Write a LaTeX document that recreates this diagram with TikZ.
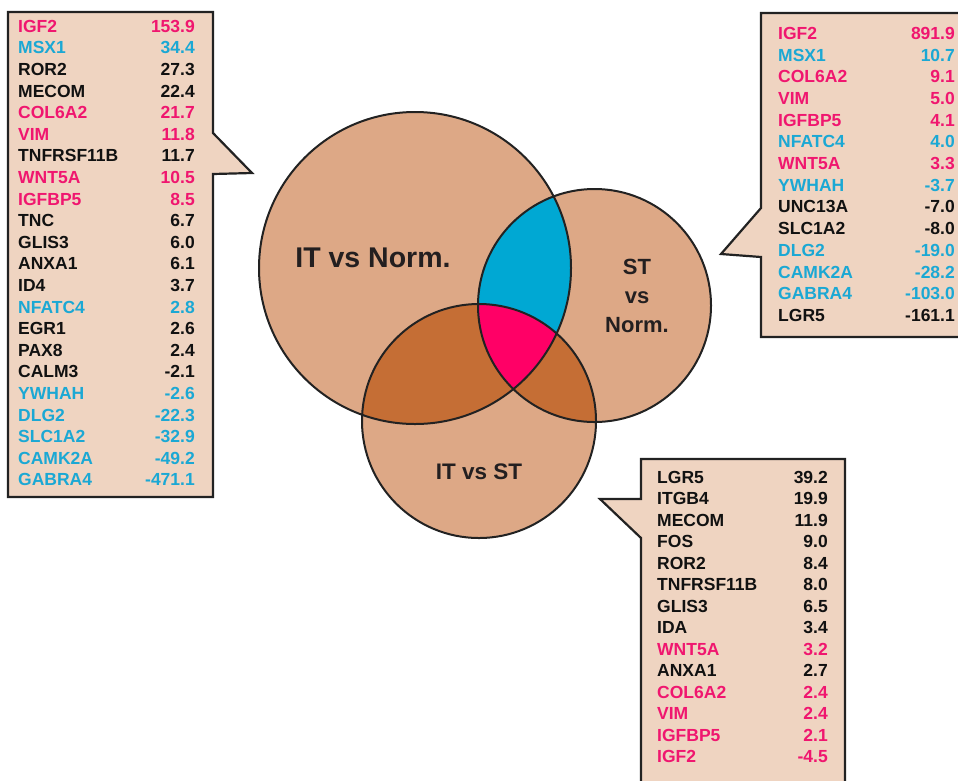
\documentclass[tikz,border=0pt]{standalone}
\usepackage{fontspec}
\setmainfont{Liberation Sans}
\definecolor{tanfill}{HTML}{DDA886}
\definecolor{brownfill}{HTML}{C56E35}
\definecolor{cyanfill}{HTML}{00A8D3}
\definecolor{magfill}{HTML}{FF0066}
\definecolor{boxfill}{HTML}{EFD4C1}
\definecolor{pk}{HTML}{F0166F}
\definecolor{cy}{HTML}{1BA8D4}
\definecolor{bk}{HTML}{111111}
\definecolor{edge}{HTML}{222222}
\definecolor{lbl}{HTML}{231F20}
\tikzset{
  callout/.style={fill=boxfill, draw=edge, line width=2.2pt, line join=miter},
  ring/.style={draw=edge, line width=2pt},
  rowtxt/.style={inner sep=0pt, font=\fontsize{17.5}{20}\selectfont\bfseries},
  vennlbl/.style={inner sep=0pt, text=lbl, font=\bfseries},
}
\begin{document}
\begin{tikzpicture}[x=1pt,y=-1pt]
\useasboundingbox (0,0) rectangle (958,780);

% circle centres
\coordinate (cA) at (415,268);
\coordinate (cB) at (594.5,305.5);
\coordinate (cC) at (479,421);
\def\rA{156}\def\rB{116.5}\def\rC{117}

% base fills
\fill[tanfill] (cA) circle[radius=\rA];
\fill[tanfill] (cB) circle[radius=\rB];
\fill[tanfill] (cC) circle[radius=\rC];
% pairwise overlaps with the IT vs ST set
\begin{scope}
  \clip (cC) circle[radius=\rC];
  \fill[brownfill] (cA) circle[radius=\rA];
  \fill[brownfill] (cB) circle[radius=\rB];
\end{scope}
% IT vs Norm. and ST vs Norm. overlap
\begin{scope}
  \clip (cA) circle[radius=\rA];
  \fill[cyanfill] (cB) circle[radius=\rB];
  \clip (cB) circle[radius=\rB];
  \fill[magfill] (cC) circle[radius=\rC];
\end{scope}
% outlines
\draw[ring] (cA) circle[radius=\rA];
\draw[ring] (cB) circle[radius=\rB];
\draw[ring] (cC) circle[radius=\rC];

% set labels
\node[vennlbl, font=\fontsize{28.5}{34}\selectfont\bfseries] (lblA) at (373,258) {IT vs Norm.};
\node[vennlbl, align=center, font=\fontsize{22}{29}\selectfont\bfseries] (lblB) at (637,296) {ST\\vs\\Norm.};
\node[vennlbl, font=\fontsize{22.5}{27}\selectfont\bfseries] (lblC) at (479,472) {IT vs ST};

% callout boxes
\draw[callout] (8,12) -- (213,12) -- (213,133) -- (252,173) -- (213,174)
  -- (213,497) -- (8,497) -- cycle;
\draw[callout] (761,13) -- (964,13) -- (964,337) -- (761,337) -- (761,257)
  -- (721,254) -- (761,208) -- cycle;
\draw[callout] (641,459) -- (845,459) -- (845,786) -- (641,786) -- (641,538)
  -- (600,499) -- (641,499) -- cycle;

% IT vs Norm. gene list
\foreach \g/\v/\c [count=\i] in {IGF2/153.9/pk, MSX1/34.4/cy, ROR2/27.3/bk,
  MECOM/22.4/bk, COL6A2/21.7/pk, VIM/11.8/pk, TNFRSF11B/11.7/bk, WNT5A/10.5/pk,
  IGFBP5/8.5/pk, TNC/6.7/bk, GLIS3/6.0/bk, ANXA1/6.1/bk, ID4/3.7/bk,
  NFATC4/2.8/cy, EGR1/2.6/bk, PAX8/2.4/bk, CALM3/-2.1/bk, YWHAH/-2.6/cy,
  DLG2/-22.3/cy, SLC1A2/-32.9/cy, CAMK2A/-49.2/cy, GABRA4/-471.1/cy} {
  \node[rowtxt, text=\c, anchor=base west] (Ln\i) at (18, {26+21.6*(\i-1)+6.3}) {\g};
  \node[rowtxt, text=\c, anchor=base east] (Lv\i) at (195, {26+21.6*(\i-1)+6.3}) {\v};
}

% ST vs Norm. gene list
\foreach \g/\v/\c [count=\i] in {IGF2/891.9/pk, MSX1/10.7/cy, COL6A2/9.1/pk,
  VIM/5.0/pk, IGFBP5/4.1/pk, NFATC4/4.0/cy, WNT5A/3.3/pk, YWHAH/-3.7/cy,
  UNC13A/-7.0/bk, SLC1A2/-8.0/bk, DLG2/-19.0/cy, CAMK2A/-28.2/cy,
  GABRA4/-103.0/cy, LGR5/-161.1/bk} {
  \node[rowtxt, text=\c, anchor=base west] (Rn\i) at (778, {33+21.7*(\i-1)+6.3}) {\g};
  \node[rowtxt, text=\c, anchor=base east] (Rv\i) at (955, {33+21.7*(\i-1)+6.3}) {\v};
}

% IT vs ST gene list
\foreach \g/\v/\c [count=\i] in {LGR5/39.2/bk, ITGB4/19.9/bk, MECOM/11.9/bk,
  FOS/9.0/bk, ROR2/8.4/bk, TNFRSF11B/8.0/bk, GLIS3/6.5/bk, IDA/3.4/bk,
  WNT5A/3.2/pk, ANXA1/2.7/bk, COL6A2/2.4/pk, VIM/2.4/pk, IGFBP5/2.1/pk,
  IGF2/-4.5/pk} {
  \node[rowtxt, text=\c, anchor=base west] (Bn\i) at (657, {477+21.5*(\i-1)+6.3}) {\g};
  \node[rowtxt, text=\c, anchor=base east] (Bv\i) at (828, {477+21.5*(\i-1)+6.3}) {\v};
}
\end{tikzpicture}
\end{document}
